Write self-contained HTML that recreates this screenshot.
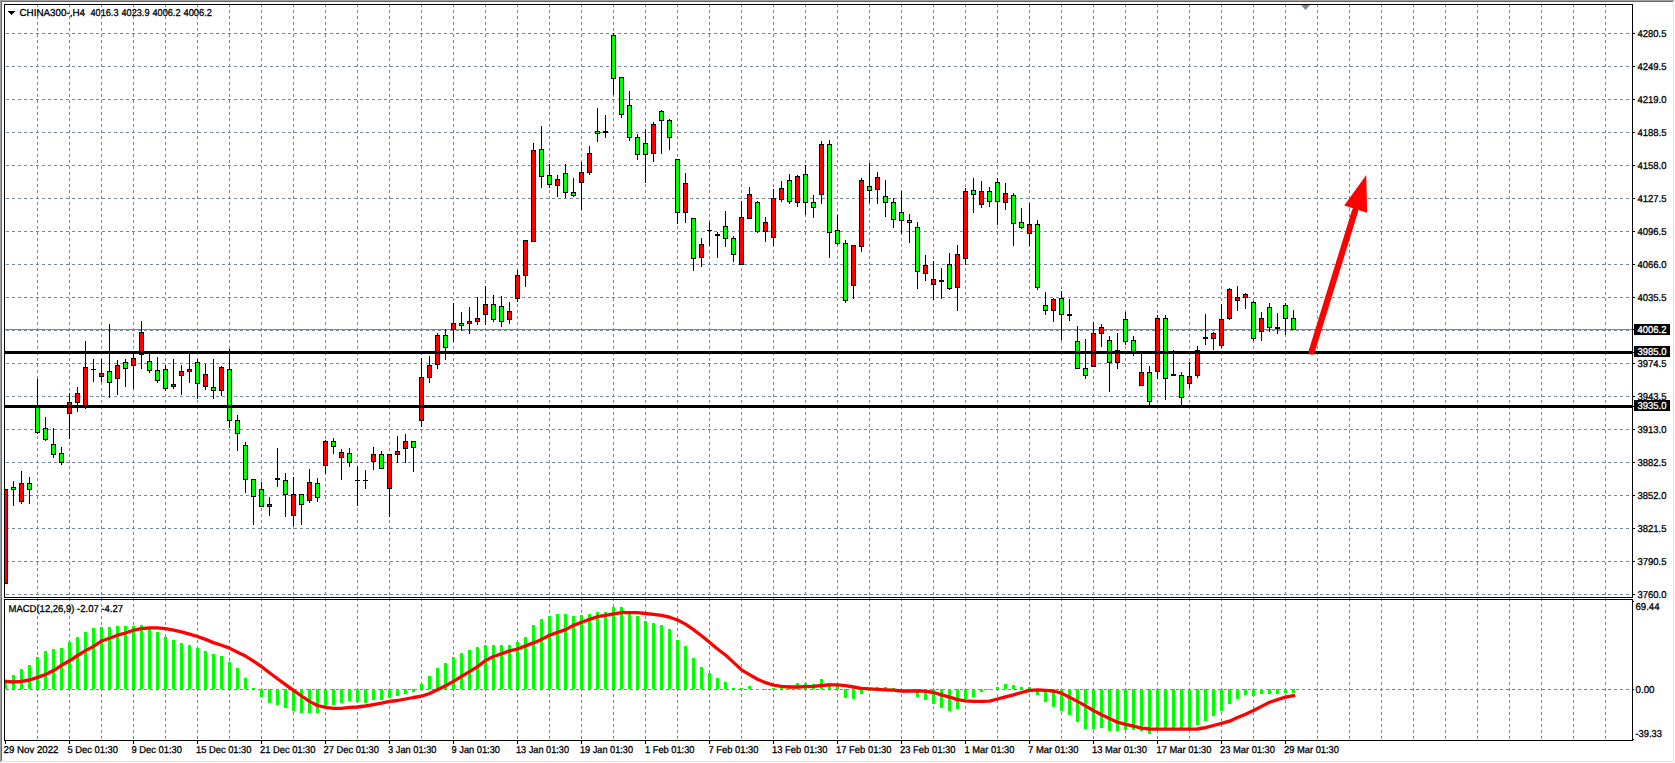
<!DOCTYPE html>
<html><head><meta charset="utf-8"><title>CHINA300-,H4</title>
<style>html,body{margin:0;padding:0;background:#fff;overflow:hidden}svg{display:block}text{font-family:"Liberation Sans",sans-serif;font-size:10px;fill:#000;text-rendering:geometricPrecision;stroke:#000;stroke-width:.3px}.w{fill:#fff;stroke:#fff}</style></head><body>
<svg width="1675" height="763" viewBox="0 0 1675 763">
<rect width="1675" height="763" fill="#fff"/>
<g shape-rendering="crispEdges">
<rect x="0" y="0" width="1674" height="1" fill="#a0a0a0"/>
<rect x="0" y="0" width="1" height="762" fill="#a0a0a0"/>
<rect x="1" y="1" width="1672" height="1" fill="#696969"/>
<rect x="1" y="1" width="1" height="760" fill="#696969"/>
<rect x="1673" y="2" width="1" height="760" fill="#e3e3e3"/>
<rect x="2" y="761" width="1672" height="1" fill="#e3e3e3"/>
<path d="M37.5 4V740M69.5 4V740M101.5 4V740M133.5 4V740M165.5 4V740M197.5 4V740M229.5 4V740M261.5 4V740M293.5 4V740M325.5 4V740M357.5 4V740M389.5 4V740M421.5 4V740M453.5 4V740M485.5 4V740M517.5 4V740M549.5 4V740M581.5 4V740M613.5 4V740M645.5 4V740M677.5 4V740M709.5 4V740M741.5 4V740M773.5 4V740M805.5 4V740M837.5 4V740M869.5 4V740M901.5 4V740M933.5 4V740M965.5 4V740M997.5 4V740M1029.5 4V740M1061.5 4V740M1093.5 4V740M1125.5 4V740M1157.5 4V740M1189.5 4V740M1221.5 4V740M1253.5 4V740M1285.5 4V740M1317.5 4V740M1349.5 4V740M1381.5 4V740M1413.5 4V740M1445.5 4V740M1477.5 4V740M1509.5 4V740M1541.5 4V740M1573.5 4V740M1605.5 4V740" stroke="#778899" stroke-width="1" stroke-dasharray="3 3" fill="none"/>
<path d="M6 33.5H1632M6 66.5H1632M6 99.5H1632M6 132.5H1632M6 165.5H1632M6 198.5H1632M6 231.5H1632M6 264.5H1632M6 297.5H1632M6 330.5H1632M6 363.5H1632M6 396.5H1632M6 429.5H1632M6 462.5H1632M6 495.5H1632M6 528.5H1632M6 561.5H1632M6 594.5H1632M6 689.5H1632" stroke="#778899" stroke-width="1" stroke-dasharray="3 3" fill="none"/>
<rect x="5" y="329" width="1627" height="1" fill="#778899"/>
<path d="M1301 5H1310L1305.5 10Z" fill="#778899" shape-rendering="auto"/>
<path d="M5.5 489V584M13.5 481V506M21.5 471V504M29.5 477V504M37.5 379V434M45.5 417V441M53.5 428V458M61.5 447V465M69.5 393V439M77.5 387V412M85.5 341V409M93.5 359V382M101.5 359V382M109.5 324V398M117.5 360V395M125.5 359V387M133.5 351V389M141.5 321V369M149.5 352V373M157.5 357V383M165.5 365V391M173.5 359V389M181.5 365V395M189.5 352V383M197.5 359V399M205.5 364V390M213.5 359V399M221.5 366V396M229.5 349V428M237.5 415V451M245.5 442V493M253.5 479V525M261.5 482V507M269.5 497V516M277.5 448V487M285.5 473V517M293.5 477V526M301.5 494V525M309.5 469V503M317.5 478V502M325.5 440V474M333.5 438V454M341.5 449V480M349.5 448V467M357.5 466V506M365.5 470V489M373.5 447V470M381.5 451V469M389.5 454V517M397.5 436V463M405.5 434V463M413.5 441V472M421.5 358V427M429.5 356V383M437.5 333V369M445.5 329V360M453.5 303V342M461.5 312V331M469.5 307V334M477.5 297V325M485.5 286V325M493.5 295V322M501.5 296V327M509.5 302V324M517.5 270V302M525.5 240V287M533.5 143V242M541.5 126V188M549.5 164V188M557.5 175V197M565.5 164V198M573.5 178V197M581.5 162V210M589.5 146V175M597.5 108V142M605.5 115V138M613.5 33V95M621.5 77V118M629.5 91V141M637.5 134V160M645.5 129V183M653.5 122V162M661.5 110V154M669.5 119V150M677.5 159V224M685.5 173V223M693.5 218V271M701.5 238V267M709.5 222V246M717.5 232V258M725.5 211V247M733.5 236V262M741.5 201V265M749.5 187V219M757.5 201V233M765.5 217V242M773.5 189V246M781.5 181V202M789.5 174V204M797.5 175V207M805.5 165V215M813.5 195V218M821.5 141V204M829.5 140V258M837.5 215V245M845.5 240V303M853.5 245V299M861.5 178V252M869.5 163V203M877.5 172V204M885.5 180V217M893.5 198V228M901.5 191V234M909.5 214V243M917.5 222V289M925.5 255V281M933.5 261V300M941.5 268V299M949.5 253V290M957.5 245V311M965.5 188V265M973.5 178V213M981.5 181V208M989.5 187V207M997.5 178V225M1005.5 183V210M1013.5 193V246M1021.5 208V229M1029.5 203V246M1037.5 220V290M1045.5 292V315M1053.5 298V322M1061.5 291V340M1069.5 299V321M1077.5 326V369M1085.5 339V379M1093.5 322V367M1101.5 324V347M1109.5 336V392M1117.5 333V369M1125.5 312V345M1133.5 336V356M1141.5 354V386M1149.5 366V405M1157.5 315V379M1165.5 315V400M1173.5 350V376M1181.5 372V405M1189.5 362V388M1197.5 346V378M1205.5 314V345M1213.5 332V350M1221.5 304V348M1229.5 288V320M1237.5 286V311M1245.5 293V309M1253.5 301V341M1261.5 312V341M1269.5 303V332M1277.5 313V334M1285.5 303V335M1293.5 310V330" stroke="#000" stroke-width="1" fill="none"/>
<path d="M4 489h4v95h-4zM11 487h5v3h-5zM19 483h5v19h-5zM27 483h5v7h-5zM35 406h5v27h-5zM43 428h5v12h-5zM51 444h5v11h-5zM59 453h5v10h-5zM67 402h5v12h-5zM75 393h5v10h-5zM83 367h5v40h-5zM91 369h5v1h-5zM99 373h5v4h-5zM107 371h5v12h-5zM115 365h5v14h-5zM123 362h5v7h-5zM131 358h5v8h-5zM139 332h5v23h-5zM147 361h5v10h-5zM155 370h5v11h-5zM163 369h5v20h-5zM171 384h5v3h-5zM179 371h5v5h-5zM187 369h5v3h-5zM195 362h5v22h-5zM203 374h5v13h-5zM211 387h5v4h-5zM219 367h5v24h-5zM227 369h5v52h-5zM235 420h5v14h-5zM243 445h5v35h-5zM251 479h5v18h-5zM259 489h5v18h-5zM267 504h5v3h-5zM275 478h5v2h-5zM283 480h5v15h-5zM291 494h5v22h-5zM299 494h5v11h-5zM307 482h5v19h-5zM315 483h5v15h-5zM323 441h5v25h-5zM331 441h5v6h-5zM339 452h5v6h-5zM347 453h5v10h-5zM355 480h5v1h-5zM363 480h5v1h-5zM371 454h5v8h-5zM379 454h5v15h-5zM387 454h5v35h-5zM395 451h5v4h-5zM403 441h5v8h-5zM411 441h5v7h-5zM419 377h5v44h-5zM427 365h5v13h-5zM435 335h5v30h-5zM443 335h5v13h-5zM451 323h5v7h-5zM459 323h5v3h-5zM467 321h5v3h-5zM475 318h5v4h-5zM483 304h5v11h-5zM491 304h5v16h-5zM499 306h5v16h-5zM507 311h5v9h-5zM515 275h5v24h-5zM523 240h5v36h-5zM531 150h5v92h-5zM539 149h5v28h-5zM547 175h5v10h-5zM555 179h5v7h-5zM563 173h5v20h-5zM571 192h5v4h-5zM579 172h5v11h-5zM587 153h5v20h-5zM595 131h5v3h-5zM603 131h5v2h-5zM611 35h5v44h-5zM619 77h5v38h-5zM627 105h5v33h-5zM635 137h5v18h-5zM643 143h5v12h-5zM651 124h5v30h-5zM659 111h5v10h-5zM667 120h5v18h-5zM675 159h5v54h-5zM683 183h5v30h-5zM691 218h5v41h-5zM699 244h5v14h-5zM707 230h5v1h-5zM715 234h5v2h-5zM723 226h5v13h-5zM731 238h5v17h-5zM739 217h5v48h-5zM747 194h5v25h-5zM755 202h5v30h-5zM763 222h5v10h-5zM771 198h5v40h-5zM779 188h5v12h-5zM787 180h5v22h-5zM795 176h5v27h-5zM803 174h5v29h-5zM811 202h5v6h-5zM819 144h5v51h-5zM827 144h5v89h-5zM835 230h5v14h-5zM843 243h5v58h-5zM851 245h5v41h-5zM859 180h5v67h-5zM867 186h5v5h-5zM875 177h5v13h-5zM883 196h5v7h-5zM891 202h5v18h-5zM899 212h5v9h-5zM907 220h5v3h-5zM915 227h5v45h-5zM923 265h5v9h-5zM931 279h5v6h-5zM939 280h5v2h-5zM947 264h5v25h-5zM955 254h5v34h-5zM963 191h5v68h-5zM971 190h5v5h-5zM979 191h5v14h-5zM987 191h5v11h-5zM995 182h5v20h-5zM1003 193h5v10h-5zM1011 195h5v29h-5zM1019 222h5v6h-5zM1027 224h5v10h-5zM1035 224h5v64h-5zM1043 305h5v6h-5zM1051 299h5v12h-5zM1059 298h5v17h-5zM1067 314h5v2h-5zM1075 341h5v28h-5zM1083 368h5v8h-5zM1091 333h5v34h-5zM1099 327h5v7h-5zM1107 340h5v23h-5zM1115 350h5v13h-5zM1123 319h5v23h-5zM1131 340h5v13h-5zM1139 372h5v14h-5zM1147 372h5v30h-5zM1155 318h5v54h-5zM1163 318h5v61h-5zM1171 374h5v2h-5zM1179 375h5v23h-5zM1187 376h5v8h-5zM1195 350h5v26h-5zM1203 337h5v2h-5zM1211 333h5v6h-5zM1219 319h5v27h-5zM1227 289h5v30h-5zM1235 297h5v4h-5zM1243 294h5v4h-5zM1251 302h5v37h-5zM1259 318h5v14h-5zM1267 307h5v21h-5zM1275 327h5v2h-5zM1283 305h5v14h-5zM1291 318h5v12h-5z" fill="#000"/>
<path d="M4 490h3v93h-3zM20 484h3v17h-3zM68 403h3v10h-3zM76 394h3v8h-3zM84 368h3v38h-3zM100 374h3v2h-3zM116 366h3v12h-3zM132 359h3v6h-3zM140 333h3v21h-3zM172 385h3v1h-3zM180 372h3v3h-3zM188 370h3v1h-3zM204 375h3v11h-3zM220 368h3v22h-3zM268 505h3v1h-3zM292 495h3v20h-3zM308 483h3v17h-3zM324 442h3v23h-3zM340 453h3v4h-3zM372 455h3v6h-3zM388 455h3v33h-3zM396 452h3v2h-3zM404 442h3v6h-3zM420 378h3v42h-3zM428 366h3v11h-3zM436 336h3v28h-3zM452 324h3v5h-3zM468 322h3v1h-3zM476 319h3v2h-3zM484 305h3v9h-3zM508 312h3v7h-3zM516 276h3v22h-3zM524 241h3v34h-3zM532 151h3v90h-3zM556 180h3v5h-3zM580 173h3v9h-3zM588 154h3v18h-3zM652 125h3v28h-3zM684 184h3v28h-3zM700 245h3v12h-3zM740 218h3v46h-3zM748 195h3v23h-3zM764 223h3v8h-3zM772 199h3v38h-3zM780 189h3v10h-3zM796 177h3v25h-3zM820 145h3v49h-3zM852 246h3v39h-3zM860 181h3v65h-3zM876 178h3v11h-3zM924 266h3v7h-3zM932 280h3v4h-3zM956 255h3v32h-3zM964 192h3v66h-3zM980 192h3v12h-3zM1004 194h3v8h-3zM1028 225h3v8h-3zM1052 300h3v10h-3zM1092 334h3v32h-3zM1100 328h3v5h-3zM1116 351h3v11h-3zM1140 373h3v12h-3zM1156 319h3v52h-3zM1188 377h3v6h-3zM1196 351h3v24h-3zM1212 334h3v4h-3zM1220 320h3v25h-3zM1228 290h3v28h-3zM1236 298h3v2h-3zM1244 295h3v2h-3zM1260 319h3v12h-3z" fill="#f00"/>
<path d="M12 488h3v1h-3zM28 484h3v5h-3zM36 407h3v25h-3zM44 429h3v10h-3zM52 445h3v9h-3zM60 454h3v8h-3zM108 372h3v10h-3zM124 363h3v5h-3zM148 362h3v8h-3zM156 371h3v9h-3zM164 370h3v18h-3zM196 363h3v20h-3zM212 388h3v2h-3zM228 370h3v50h-3zM236 421h3v12h-3zM244 446h3v33h-3zM252 480h3v16h-3zM260 490h3v16h-3zM284 481h3v13h-3zM300 495h3v9h-3zM316 484h3v13h-3zM332 442h3v4h-3zM348 454h3v8h-3zM380 455h3v13h-3zM412 442h3v5h-3zM444 336h3v11h-3zM460 324h3v1h-3zM492 305h3v14h-3zM500 307h3v14h-3zM540 150h3v26h-3zM548 176h3v8h-3zM564 174h3v18h-3zM572 193h3v2h-3zM596 132h3v1h-3zM612 36h3v42h-3zM620 78h3v36h-3zM628 106h3v31h-3zM636 138h3v16h-3zM644 144h3v10h-3zM660 112h3v8h-3zM668 121h3v16h-3zM676 160h3v52h-3zM692 219h3v39h-3zM724 227h3v11h-3zM732 239h3v15h-3zM756 203h3v28h-3zM788 181h3v20h-3zM804 175h3v27h-3zM812 203h3v4h-3zM828 145h3v87h-3zM836 231h3v12h-3zM844 244h3v56h-3zM868 187h3v3h-3zM884 197h3v5h-3zM892 203h3v16h-3zM900 213h3v7h-3zM908 221h3v1h-3zM916 228h3v43h-3zM948 265h3v23h-3zM972 191h3v3h-3zM988 192h3v9h-3zM996 183h3v18h-3zM1012 196h3v27h-3zM1020 223h3v4h-3zM1036 225h3v62h-3zM1044 306h3v4h-3zM1060 299h3v15h-3zM1076 342h3v26h-3zM1084 369h3v6h-3zM1108 341h3v21h-3zM1124 320h3v21h-3zM1132 341h3v11h-3zM1148 373h3v28h-3zM1164 319h3v59h-3zM1180 376h3v21h-3zM1252 303h3v35h-3zM1268 308h3v19h-3zM1284 306h3v12h-3zM1292 319h3v10h-3z" fill="#0f0"/>
<rect x="5" y="351" width="1627" height="3" fill="#000"/>
<rect x="5" y="405" width="1627" height="3" fill="#000"/>
<path d="M4 682h3v7h-3zM12 675h3v14h-3zM20 669h3v20h-3zM28 665h3v24h-3zM36 657h3v32h-3zM44 651h3v38h-3zM52 649h3v40h-3zM60 648h3v41h-3zM68 642h3v47h-3zM76 637h3v52h-3zM84 632h3v57h-3zM92 628h3v61h-3zM100 627h3v62h-3zM108 627h3v62h-3zM116 626h3v63h-3zM124 626h3v63h-3zM132 626h3v63h-3zM140 625h3v64h-3zM148 628h3v61h-3zM156 632h3v57h-3zM164 637h3v52h-3zM172 640h3v49h-3zM180 643h3v46h-3zM188 645h3v44h-3zM196 648h3v41h-3zM204 651h3v38h-3zM212 654h3v35h-3zM220 656h3v33h-3zM228 662h3v27h-3zM236 668h3v21h-3zM244 678h3v11h-3zM252 688h3v1h-3zM260 689h3v8h-3zM268 689h3v14h-3zM276 689h3v16h-3zM284 689h3v19h-3zM292 689h3v22h-3zM300 689h3v24h-3zM308 689h3v24h-3zM316 689h3v24h-3zM324 689h3v17h-3zM332 689h3v16h-3zM340 689h3v14h-3zM348 689h3v12h-3zM356 689h3v13h-3zM364 689h3v14h-3zM372 689h3v11h-3zM380 689h3v11h-3zM388 689h3v9h-3zM396 689h3v7h-3zM404 689h3v5h-3zM412 689h3v3h-3zM420 684h3v5h-3zM428 676h3v13h-3zM436 668h3v21h-3zM444 663h3v26h-3zM452 657h3v32h-3zM460 653h3v36h-3zM468 650h3v39h-3zM476 647h3v42h-3zM484 645h3v44h-3zM492 645h3v44h-3zM500 645h3v44h-3zM508 645h3v44h-3zM516 642h3v47h-3zM524 637h3v52h-3zM532 625h3v64h-3zM540 619h3v70h-3zM548 616h3v73h-3zM556 614h3v75h-3zM564 614h3v75h-3zM572 616h3v73h-3zM580 615h3v74h-3zM588 614h3v75h-3zM596 612h3v77h-3zM604 612h3v77h-3zM612 607h3v82h-3zM620 607h3v82h-3zM628 612h3v77h-3zM636 616h3v73h-3zM644 621h3v68h-3zM652 623h3v66h-3zM660 625h3v64h-3zM668 629h3v60h-3zM676 640h3v49h-3zM684 646h3v43h-3zM692 658h3v31h-3zM700 667h3v22h-3zM708 673h3v16h-3zM716 678h3v11h-3zM724 682h3v7h-3zM732 688h3v1h-3zM740 688h3v1h-3zM748 686h3v3h-3zM756 689h3v1h-3zM764 689h3v1h-3zM772 688h3v1h-3zM780 687h3v2h-3zM788 685h3v4h-3zM796 683h3v6h-3zM804 683h3v6h-3zM812 684h3v5h-3zM820 679h3v10h-3zM828 683h3v6h-3zM836 686h3v3h-3zM844 689h3v9h-3zM852 689h3v10h-3zM860 689h3v5h-3zM868 689h3v2h-3zM876 687h3v2h-3zM884 687h3v2h-3zM892 688h3v1h-3zM916 689h3v8h-3zM924 689h3v11h-3zM932 689h3v15h-3zM940 689h3v19h-3zM948 689h3v22h-3zM956 689h3v20h-3zM964 689h3v10h-3zM972 689h3v8h-3zM980 689h3v3h-3zM988 689h3v1h-3zM996 687h3v2h-3zM1004 684h3v5h-3zM1012 685h3v4h-3zM1020 687h3v2h-3zM1028 687h3v2h-3zM1036 689h3v6h-3zM1044 689h3v13h-3zM1052 689h3v18h-3zM1060 689h3v22h-3zM1068 689h3v26h-3zM1076 689h3v33h-3zM1084 689h3v40h-3zM1092 689h3v40h-3zM1100 689h3v39h-3zM1108 689h3v42h-3zM1116 689h3v42h-3zM1124 689h3v41h-3zM1132 689h3v41h-3zM1140 689h3v42h-3zM1148 689h3v45h-3zM1156 689h3v41h-3zM1164 689h3v41h-3zM1172 689h3v40h-3zM1180 689h3v40h-3zM1188 689h3v39h-3zM1196 689h3v36h-3zM1204 689h3v32h-3zM1212 689h3v27h-3zM1220 689h3v22h-3zM1228 689h3v15h-3zM1236 689h3v10h-3zM1244 689h3v6h-3zM1252 689h3v7h-3zM1260 689h3v5h-3zM1268 689h3v5h-3zM1276 689h3v5h-3zM1284 689h3v4h-3zM1292 689h3v4h-3z" fill="#0f0"/>
</g>
<polyline points="6.65,681.4 13.5,682.0 21.5,681.4 29.5,680.0 37.5,677.4 45.5,674.5 53.5,670.6 61.5,665.3 69.5,660.8 77.5,655.5 85.5,650.6 93.5,646.4 101.5,641.0 109.5,638.2 117.5,635.2 125.5,633.0 133.5,630.2 141.5,628.7 149.5,627.8 157.5,627.8 165.5,628.7 173.5,630.2 181.5,631.8 189.5,634.2 197.5,636.5 205.5,639.4 213.5,642.6 221.5,645.3 229.5,648.1 237.5,652.2 245.5,656.1 253.5,661.1 261.5,666.6 269.5,672.7 277.5,678.7 285.5,684.6 293.5,690.3 301.5,696.0 309.5,701.4 317.5,705.5 325.5,707.3 333.5,708.3 341.5,708.3 349.5,707.3 357.5,707.0 365.5,706.0 373.5,704.6 381.5,703.1 389.5,701.4 397.5,700.5 405.5,699.0 413.5,697.5 421.5,696.2 429.5,693.5 437.5,689.8 445.5,685.7 453.5,681.4 461.5,676.4 469.5,671.6 477.5,666.6 485.5,660.5 493.5,656.5 501.5,653.7 509.5,650.9 517.5,649.0 525.5,645.9 533.5,642.9 541.5,639.4 549.5,635.2 557.5,632.4 565.5,629.6 573.5,625.4 581.5,622.2 589.5,619.4 597.5,616.7 605.5,615.4 613.5,613.9 621.5,612.6 629.5,612.6 637.5,612.6 645.5,613.5 653.5,614.3 661.5,615.4 669.5,617.2 677.5,620.0 685.5,624.1 693.5,629.6 701.5,635.7 709.5,642.2 717.5,649.0 725.5,655.0 733.5,662.4 741.5,669.8 749.5,674.6 757.5,679.2 765.5,682.7 773.5,685.1 781.5,686.4 789.5,687.0 797.5,687.0 805.5,686.6 813.5,686.4 821.5,685.5 829.5,684.8 837.5,684.8 845.5,685.7 853.5,687.0 861.5,688.3 869.5,688.8 877.5,689.4 885.5,689.8 893.5,690.1 901.5,691.0 909.5,691.0 917.5,691.0 925.5,691.2 933.5,692.5 941.5,694.8 949.5,697.2 957.5,699.6 965.5,700.9 973.5,701.4 981.5,701.4 989.5,701.2 997.5,699.0 1005.5,696.8 1013.5,694.9 1021.5,692.5 1029.5,690.3 1037.5,689.8 1045.5,690.3 1053.5,691.0 1061.5,693.1 1069.5,697.2 1077.5,701.4 1085.5,705.9 1093.5,710.5 1101.5,714.8 1109.5,718.5 1117.5,722.2 1125.5,724.4 1133.5,726.2 1141.5,728.1 1149.5,729.0 1157.5,729.2 1165.5,729.2 1173.5,729.2 1181.5,729.2 1189.5,729.2 1197.5,729.0 1205.5,727.7 1213.5,725.5 1221.5,723.4 1229.5,721.2 1237.5,717.5 1245.5,714.2 1253.5,710.5 1261.5,706.4 1269.5,702.3 1277.5,699.6 1285.5,697.2 1293.5,695.7" fill="none" stroke="#f00" stroke-width="3.3" stroke-linejoin="round" stroke-linecap="square"/>
<line x1="1311.7" y1="351.5" x2="1355" y2="211" stroke="#f00" stroke-width="6.2" stroke-linecap="round"/>
<path d="M1366.3 175L1344.2 205.6L1367.1 212.7Z" fill="#f00"/>
<g shape-rendering="crispEdges">
<path d="M4.5 4.5H1632.5V597.5H4.5ZM4.5 599.5H1632.5V740.5H4.5Z" fill="none" stroke="#000" stroke-width="1"/>
<path d="M1633 33.5h2M1633 66.5h2M1633 99.5h2M1633 132.5h2M1633 165.5h2M1633 198.5h2M1633 231.5h2M1633 264.5h2M1633 297.5h2M1633 363.5h2M1633 396.5h2M1633 429.5h2M1633 462.5h2M1633 495.5h2M1633 528.5h2M1633 561.5h2M1633 594.5h2M1633 329.5h2M1633 352.5h2M1633 406.5h2M1633 601.5h1M1633 689.5h1M1633 739.5h1M5.5 741v3M69.5 741v3M133.5 741v3M197.5 741v3M261.5 741v3M325.5 741v3M389.5 741v3M453.5 741v3M517.5 741v3M581.5 741v3M645.5 741v3M709.5 741v3M773.5 741v3M837.5 741v3M901.5 741v3M965.5 741v3M1029.5 741v3M1093.5 741v3M1157.5 741v3M1221.5 741v3M1285.5 741v3" stroke="#000" stroke-width="1" fill="none"/>
<rect x="1634" y="324" width="36" height="11" fill="#000"/>
<rect x="1634" y="346" width="36" height="11" fill="#000"/>
<rect x="1634" y="400" width="36" height="11" fill="#000"/>
<path d="M8 11h7v1h-7zM9 12h5v1h-5zM10 13h3v1h-3zM11 14h1v1h-1z" fill="#000"/>
</g>
<text x="1637.5" y="37" textLength="29" lengthAdjust="spacingAndGlyphs">4280.5</text>
<text x="1637.5" y="70" textLength="29" lengthAdjust="spacingAndGlyphs">4249.5</text>
<text x="1637.5" y="103" textLength="29" lengthAdjust="spacingAndGlyphs">4219.0</text>
<text x="1637.5" y="136" textLength="29" lengthAdjust="spacingAndGlyphs">4188.5</text>
<text x="1637.5" y="169" textLength="29" lengthAdjust="spacingAndGlyphs">4158.0</text>
<text x="1637.5" y="202" textLength="29" lengthAdjust="spacingAndGlyphs">4127.5</text>
<text x="1637.5" y="235" textLength="29" lengthAdjust="spacingAndGlyphs">4096.5</text>
<text x="1637.5" y="268" textLength="29" lengthAdjust="spacingAndGlyphs">4066.0</text>
<text x="1637.5" y="301" textLength="29" lengthAdjust="spacingAndGlyphs">4035.5</text>
<text x="1637.5" y="367" textLength="29" lengthAdjust="spacingAndGlyphs">3974.5</text>
<text x="1637.5" y="400" textLength="29" lengthAdjust="spacingAndGlyphs">3943.5</text>
<text x="1637.5" y="433" textLength="29" lengthAdjust="spacingAndGlyphs">3913.0</text>
<text x="1637.5" y="466" textLength="29" lengthAdjust="spacingAndGlyphs">3882.5</text>
<text x="1637.5" y="499" textLength="29" lengthAdjust="spacingAndGlyphs">3852.0</text>
<text x="1637.5" y="532" textLength="29" lengthAdjust="spacingAndGlyphs">3821.5</text>
<text x="1637.5" y="565" textLength="29" lengthAdjust="spacingAndGlyphs">3790.5</text>
<text x="1637.5" y="598" textLength="29" lengthAdjust="spacingAndGlyphs">3760.0</text>
<g shape-rendering="crispEdges"><rect x="1634" y="400" width="36" height="11" fill="#000"/></g>
<text x="1637.5" y="333" textLength="29" lengthAdjust="spacingAndGlyphs" class="w">4006.2</text>
<text x="1637.5" y="355" textLength="29" lengthAdjust="spacingAndGlyphs" class="w">3985.0</text>
<text x="1637.5" y="409" textLength="29" lengthAdjust="spacingAndGlyphs" class="w">3935.0</text>
<text x="1635.5" y="610" textLength="24" lengthAdjust="spacingAndGlyphs">69.44</text>
<text x="1635.5" y="693" textLength="19" lengthAdjust="spacingAndGlyphs">0.00</text>
<text x="1635.5" y="737" textLength="26.5" lengthAdjust="spacingAndGlyphs">-39.33</text>
<text x="19.5" y="16" textLength="65.6" lengthAdjust="spacingAndGlyphs">CHINA300-,H4</text>
<text x="90.5" y="16" textLength="28" lengthAdjust="spacingAndGlyphs">4016.3</text>
<text x="121.5" y="16" textLength="28" lengthAdjust="spacingAndGlyphs">4023.9</text>
<text x="152.5" y="16" textLength="28" lengthAdjust="spacingAndGlyphs">4006.2</text>
<text x="183.5" y="16" textLength="28.5" lengthAdjust="spacingAndGlyphs">4006.2</text>
<text x="8.5" y="612" textLength="114.5" lengthAdjust="spacingAndGlyphs">MACD(12,26,9) -2.07 -4.27</text>
<text x="3.5" y="753" textLength="55.0" lengthAdjust="spacingAndGlyphs">29 Nov 2022</text>
<text x="67.5" y="753" textLength="50.5" lengthAdjust="spacingAndGlyphs">5 Dec 01:30</text>
<text x="131.5" y="753" textLength="50.5" lengthAdjust="spacingAndGlyphs">9 Dec 01:30</text>
<text x="196.0" y="753" textLength="55.5" lengthAdjust="spacingAndGlyphs">15 Dec 01:30</text>
<text x="260.0" y="753" textLength="55.5" lengthAdjust="spacingAndGlyphs">21 Dec 01:30</text>
<text x="323.5" y="753" textLength="55.5" lengthAdjust="spacingAndGlyphs">27 Dec 01:30</text>
<text x="388.0" y="753" textLength="48.5" lengthAdjust="spacingAndGlyphs">3 Jan 01:30</text>
<text x="451.5" y="753" textLength="48.5" lengthAdjust="spacingAndGlyphs">9 Jan 01:30</text>
<text x="516.0" y="753" textLength="53.0" lengthAdjust="spacingAndGlyphs">13 Jan 01:30</text>
<text x="580.0" y="753" textLength="53.0" lengthAdjust="spacingAndGlyphs">19 Jan 01:30</text>
<text x="645.0" y="753" textLength="49.5" lengthAdjust="spacingAndGlyphs">1 Feb 01:30</text>
<text x="708.5" y="753" textLength="50.0" lengthAdjust="spacingAndGlyphs">7 Feb 01:30</text>
<text x="772.0" y="753" textLength="55.5" lengthAdjust="spacingAndGlyphs">13 Feb 01:30</text>
<text x="836.0" y="753" textLength="55.5" lengthAdjust="spacingAndGlyphs">17 Feb 01:30</text>
<text x="900.0" y="753" textLength="55.5" lengthAdjust="spacingAndGlyphs">23 Feb 01:30</text>
<text x="964.5" y="753" textLength="50.0" lengthAdjust="spacingAndGlyphs">1 Mar 01:30</text>
<text x="1028.0" y="753" textLength="50.5" lengthAdjust="spacingAndGlyphs">7 Mar 01:30</text>
<text x="1092.0" y="753" textLength="55.0" lengthAdjust="spacingAndGlyphs">13 Mar 01:30</text>
<text x="1156.5" y="753" textLength="55.0" lengthAdjust="spacingAndGlyphs">17 Mar 01:30</text>
<text x="1220.0" y="753" textLength="55.0" lengthAdjust="spacingAndGlyphs">23 Mar 01:30</text>
<text x="1284.0" y="753" textLength="55.0" lengthAdjust="spacingAndGlyphs">29 Mar 01:30</text>
</svg></body></html>
